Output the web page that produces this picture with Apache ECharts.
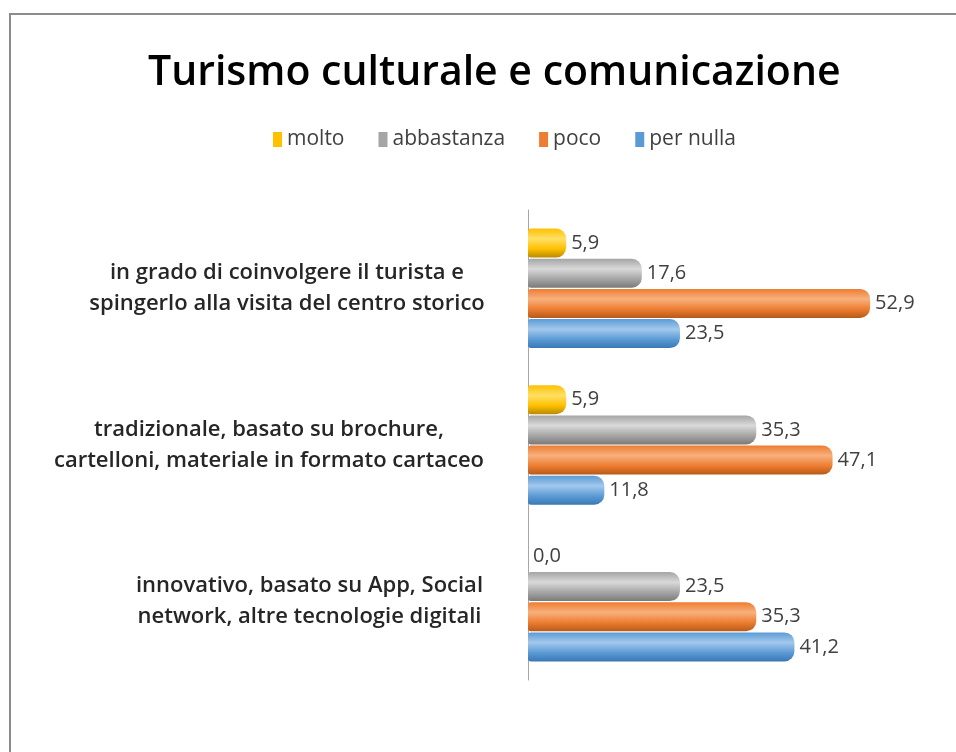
<!DOCTYPE html>
<html>
<head>
<meta charset="utf-8">
<script src="https://cdn.jsdelivr.net/npm/echarts@6/dist/echarts.min.js"></script>
<style>
html,body{margin:0;padding:0;background:#fff;}
#frame{position:absolute;left:9px;top:13px;right:-5px;bottom:-5px;border-left:2px solid #8c8c8c;border-top:2px solid #8c8c8c;}
#chart{width:956px;height:752px;position:absolute;left:0;top:0;}
</style>
</head>
<body>
<div id="frame"></div>
<div id="chart"></div>
<script>
const titleText = 'Turismo culturale e comunicazione';
const categories = [
  'in grado di coinvolgere il turista e\nspingerlo alla visita del centro storico',
  'tradizionale, basato su brochure,\ncartelloni, materiale in formato cartaceo',
  'innovativo, basato su App, Social\nnetwork, altre tecnologie digitali'
];
const seriesNames = ['molto', 'abbastanza', 'poco', 'per nulla'];
const molto = [5.9, 5.9, 0.0];
const abbastanza = [17.6, 35.3, 23.5];
const poco = [52.9, 47.1, 35.3];
const perNulla = [23.5, 11.8, 41.2];

const seriesValues = [molto, abbastanza, poco, perNulla];
const baseColors = ['#FFC000', '#A5A5A5', '#ED7D31', '#5B9BD5'];
const lightColors = ['#FFE066', '#D9D9D9', '#F8B07E', '#A3C8EC'];
const darkColors = ['#B88A00', '#7A7A7A', '#B85A18', '#3A78B5'];

const chart = echarts.init(document.getElementById('chart'), null, {renderer: 'canvas'});

const labelWidths = [410, 446, 365];
const labelFont = {fontFamily: 'Open Sans', fontWeight: 600, fontSize: 22, color: '#262626', lineHeight: 31, align: 'center'};

const option = {
  backgroundColor: 'transparent',
  animation: false,
  title: {
    text: titleText,
    left: 143,
    top: 48,
    textStyle: {fontFamily: 'Open Sans', fontSize: 41, fontWeight: 600, color: '#000'}
  },
  legend: {
    data: seriesNames.map(function (n, k) { return {name: n, itemStyle: {color: baseColors[k]}}; }),
    top: 124,
    left: 268,
    itemWidth: 9,
    itemHeight: 15,
    itemGap: 34,
    icon: 'rect',
    textStyle: {fontFamily: 'Open Sans', fontSize: 21, color: '#404040'}
  },
  grid: {left: 528, right: 40, top: 210, bottom: 72, containLabel: false},
  xAxis: {
    type: 'value', min: 0, max: 60,
    show: false,
    splitLine: {show: false}
  },
  yAxis: {
    type: 'category',
    inverse: true,
    data: categories,
    axisTick: {show: false},
    axisLine: {show: true, lineStyle: {color: '#A6A6A6', width: 1}},
    axisLabel: {
      margin: 36,
      align: 'right',
      formatter: function (v, i) {
        return v.split('\n').map(function (l) { return '{w' + i + '|' + l + '}'; }).join('\n');
      },
      rich: {
        w0: Object.assign({width: labelWidths[0]}, labelFont),
        w1: Object.assign({width: labelWidths[1]}, labelFont),
        w2: Object.assign({width: labelWidths[2]}, labelFont)
      }
    }
  },
  series: seriesNames.map(function (name, k) {
    return {
      name: name,
      type: 'bar',
      data: seriesValues[k],
      barWidth: 29,
      barGap: '4%',
      barCategoryGap: '22%',
      itemStyle: {
        color: new echarts.graphic.LinearGradient(0, 0, 0, 1, [
          {offset: 0, color: baseColors[k]},
          {offset: 0.35, color: lightColors[k]},
          {offset: 0.7, color: baseColors[k]},
          {offset: 1, color: darkColors[k]}
        ]),
        borderRadius: [3, 10, 10, 3]
      },
      label: {
        show: true,
        position: 'right',
        distance: 5,
        fontFamily: 'Open Sans',
        fontSize: 20,
        color: '#404040',
        formatter: function (p) { return p.value.toFixed(1).replace('.', ','); }
      }
    };
  })
};
chart.setOption(option);
</script>
</body>
</html>
